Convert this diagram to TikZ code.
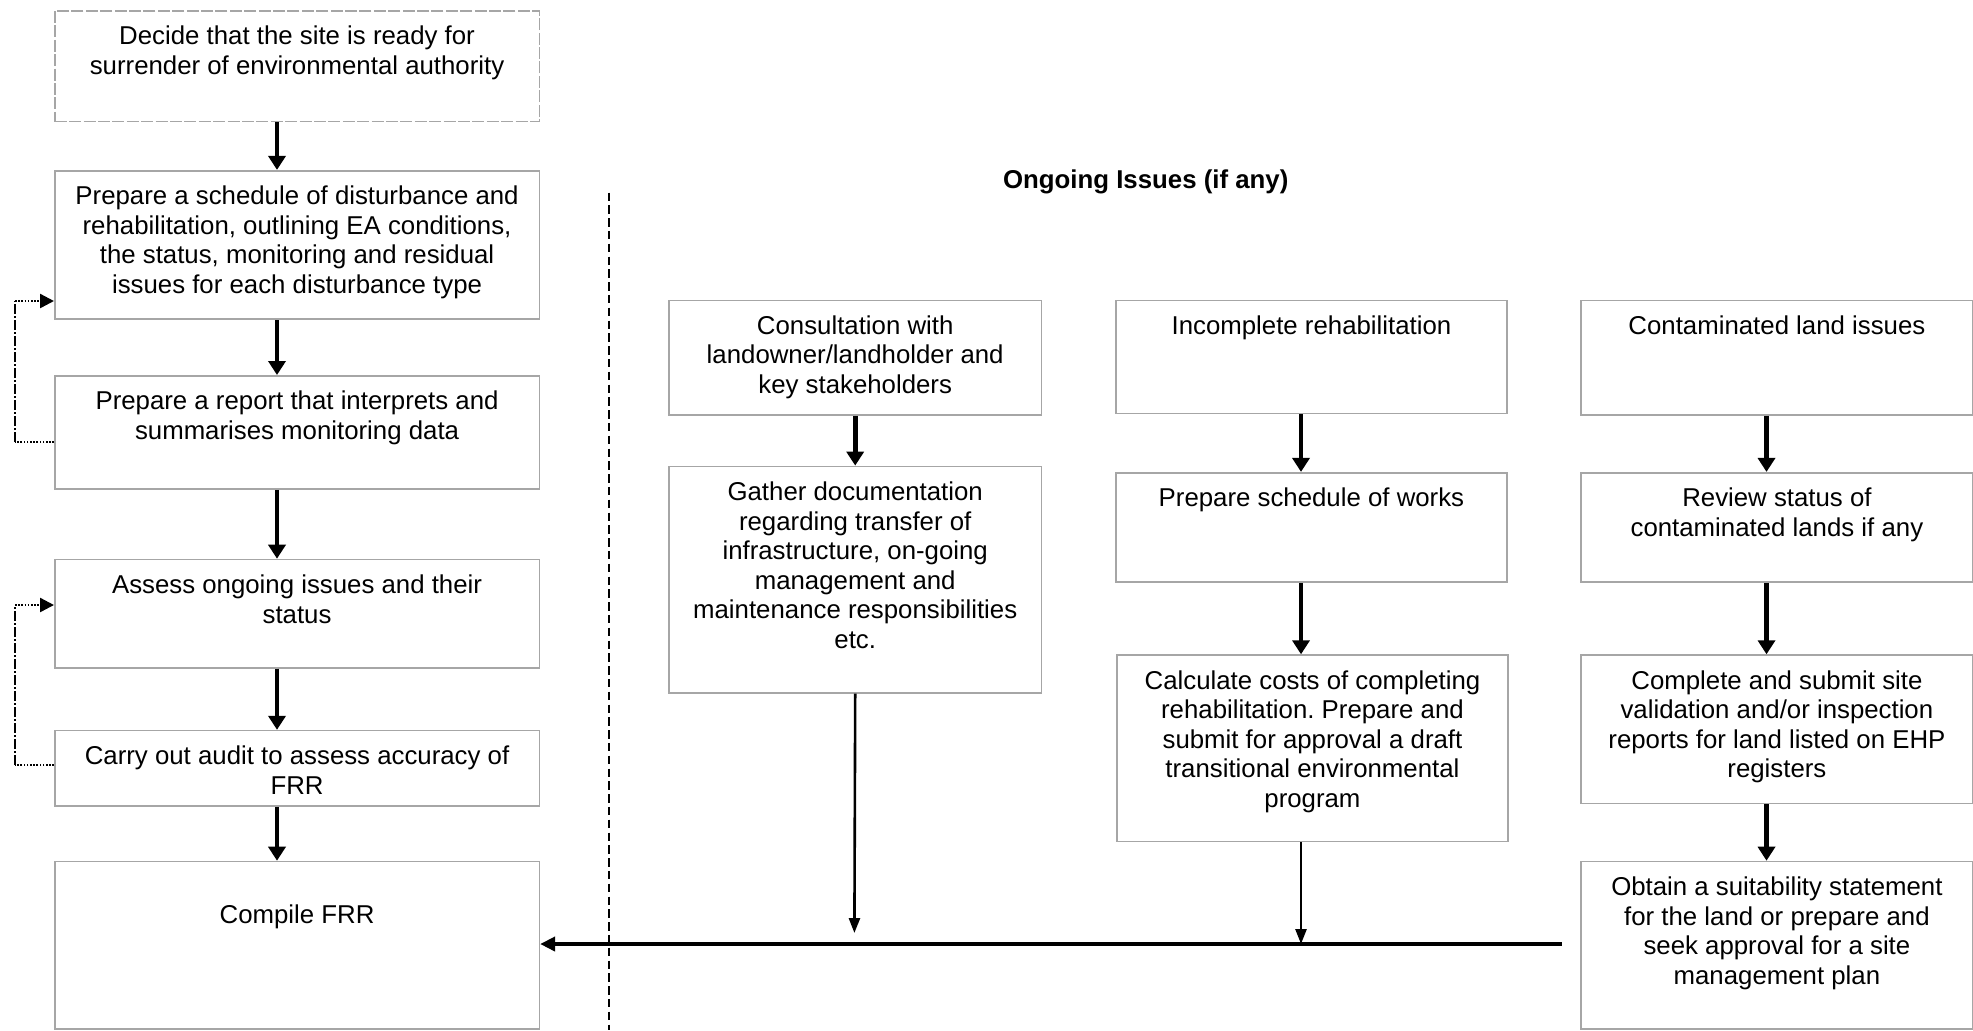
\documentclass[tikz,border=0pt]{standalone}
\usepackage{fontspec}
\setmainfont{Liberation Sans}
\usetikzlibrary{arrows.meta}
\frenchspacing
\newcommand{\boxtext}[4]{\parbox[t][#2][t]{#1}{\centering\rule{0pt}{#3}#4\par}}
\tikzset{
  box/.style={draw=gray!70, line width=0.8pt, inner sep=0pt, anchor=north west, font=\fontsize{12.9}{14.8}\selectfont},
  dbox/.style={box, dash pattern=on 6pt off 1.2pt},
  arr/.style={line width=2.3pt, -{Triangle[width=8.5pt,length=7pt]}},
  tarr/.style={line width=1.3pt, -{Triangle[width=5.5pt,length=7.5pt]}},
  harr/.style={line width=2pt, -{Triangle[width=7pt,length=7.5pt]}},
  divider/.style={line width=0.6pt, dash pattern=on 4.2pt off 2.2pt},
  loopdot/.style={line width=1.2pt, dash pattern=on 0.8pt off 0.8pt},
  loopv/.style={line width=1.3pt, dash pattern=on 5pt off 1pt on 1pt off 1pt},
  looptip/.style={-{Triangle[width=7pt,length=7pt]}},
  titletext/.style={font=\bfseries\fontsize{12.9}{14.8}\selectfont}
}
\begin{document}
\begin{tikzpicture}[x=0.5pt,y=-0.5pt]
\useasboundingbox[fill=white] (0,0) rectangle (1973,1030);

% left column
\node[dbox] (b1) at (54,10) {\boxtext{242.25pt}{55.4pt}{17pt}{Decide that the site is ready for\\surrender of environmental authority}};
\node[box] (b2) at (54,169.9) {\boxtext{242.25pt}{74.25pt}{17pt}{Prepare a schedule of disturbance and\\rehabilitation, outlining EA conditions,\\the status, monitoring and residual\\issues for each disturbance type}};
\node[box] (b3) at (54,375) {\boxtext{242.25pt}{56.6pt}{17pt}{Prepare a report that interprets and\\summarises monitoring data}};
\node[box] (b4) at (54,558.7) {\boxtext{242.25pt}{54.1pt}{17pt}{Assess ongoing issues and their\\status}};
\node[box] (b5) at (54,729.8) {\boxtext{242.25pt}{37.75pt}{17pt}{Carry out audit to assess accuracy of\\FRR}};
\node[box] (b6) at (54,860.7) {\boxtext{242.25pt}{83.65pt}{31pt}{Compile FRR}};

\coordinate (ax) at (277,0);
\draw[arr] (b1.south -| ax) -- (b2.north -| ax);
\draw[arr] (b2.south -| ax) -- (b3.north -| ax);
\draw[arr] (b3.south -| ax) -- (b4.north -| ax);
\draw[arr] (b4.south -| ax) -- (b5.north -| ax);
\draw[arr] (b5.south -| ax) -- (b6.north -| ax);

% feedback loops
\coordinate (l1s) at (15,442);
\coordinate (l1e) at (15,301);
\draw[loopdot] (b3.west |- l1s) -- (l1s);
\draw[loopv] (l1s) -- (l1e);
\draw[loopdot, looptip] (l1e) -- (b2.west |- l1e);
\coordinate (l2s) at (15,765);
\coordinate (l2e) at (15,605);
\draw[loopdot] (b5.west |- l2s) -- (l2s);
\draw[loopv] (l2s) -- (l2e);
\draw[loopdot, looptip] (l2e) -- (b4.west |- l2e);

% divider and title
\coordinate (dtop) at (609,192.5);
\coordinate (dbot) at (609,1030);
\draw[divider] (dtop) -- (dbot);
\node[titletext] (title) at (1145.7,181.5) {Ongoing Issues (if any)};

% column A
\node[box] (a1) at (668.2,299.5) {\boxtext{186.2pt}{57.25pt}{17pt}{Consultation with\\landowner/landholder and\\key stakeholders}};
\node[box] (a2) at (668.2,465.6) {\boxtext{186.2pt}{113.2pt}{17pt}{Gather documentation\\regarding transfer of\\infrastructure, on-going\\management and\\maintenance responsibilities\\etc.}};
\draw[arr] (a1.south) -- (a2.north);

% column B
\node[box] (c1) at (1115,299.5) {\boxtext{195.65pt}{56.6pt}{17pt}{Incomplete rehabilitation}};
\node[box] (c2) at (1115,471.9) {\boxtext{195.65pt}{54.7pt}{17pt}{Prepare schedule of works}};
\node[box] (c3) at (1116,654.3) {\boxtext{195.65pt}{93.15pt}{17pt}{Calculate costs of completing\\rehabilitation. Prepare and\\submit for approval a draft\\transitional environmental\\program}};
\coordinate (bx) at (1301,0);
\draw[arr] (c1.south -| bx) -- (c2.north -| bx);
\draw[arr] (c2.south -| bx) -- (c3.north -| bx);

% column C
\node[box] (d1) at (1580.4,299.5) {\boxtext{195.7pt}{57.25pt}{17pt}{Contaminated land issues}};
\node[box] (d2) at (1580.4,471.9) {\boxtext{195.7pt}{54.7pt}{17pt}{Review status of\\contaminated lands if any}};
\node[box] (d3) at (1580.4,654.3) {\boxtext{195.7pt}{74.25pt}{17pt}{Complete and submit site\\validation and/or inspection\\reports for land listed on EHP\\registers}};
\node[box] (d4) at (1580.4,860.7) {\boxtext{195.7pt}{83.65pt}{17pt}{Obtain a suitability statement\\for the land or prepare and\\seek approval for a site\\management plan}};
\coordinate (cx) at (1766.5,0);
\draw[arr] (d1.south -| cx) -- (d2.north -| cx);
\draw[arr] (d2.south -| cx) -- (d3.north -| cx);
\draw[arr] (d3.south -| cx) -- (d4.north -| cx);

% collector line
\coordinate (hr) at (1561.6,944);
\coordinate (aend) at (854.4,933);
\draw[tarr] (a2.south) -- (aend);
\draw[tarr] (c3.south -| bx) -- (hr -| bx);
\draw[harr] (hr) -- (b6.east |- hr);
\end{tikzpicture}
\end{document}
